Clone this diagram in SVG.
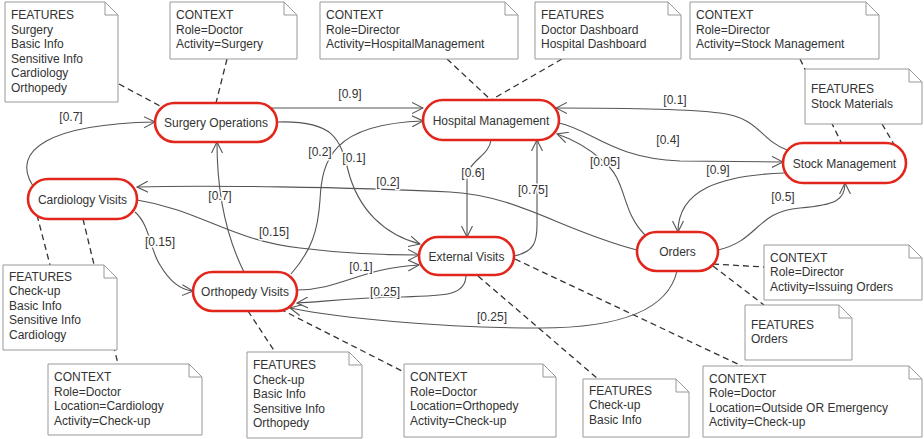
<svg xmlns="http://www.w3.org/2000/svg" width="924" height="439" viewBox="0 0 924 439">
<style>
.bg{fill:#fff}
.node rect{fill:#fff;stroke:#e3261c;stroke-width:2.6}
.node text{font-family:"Liberation Sans",Arial,sans-serif;font-size:12px;fill:#333;text-anchor:middle}
.note path.b{fill:#fff;stroke:#999;stroke-width:1}
.note path.f{fill:none;stroke:#999;stroke-width:1}
.note text{font-family:"Liberation Sans",Arial,sans-serif;font-size:12px;fill:#333}
.e{fill:none;stroke:#555;stroke-width:1.1;marker-end:url(#arr)}
.d{fill:none;stroke:#333;stroke-width:1.3;stroke-dasharray:6 4}
.lbl{font-family:"Liberation Sans",Arial,sans-serif;font-size:12px;fill:#333;text-anchor:middle;stroke:#fff;stroke-width:3;paint-order:stroke;stroke-linejoin:round}
</style>
<defs>
<marker id="arr" markerWidth="12" markerHeight="12" refX="11" refY="6" orient="auto" markerUnits="userSpaceOnUse">
<path d="M0,0.5 L11,6 L0,11.5" fill="none" stroke="#555" stroke-width="1.1"/>
</marker>
</defs>
<rect class="bg" x="0" y="0" width="924" height="439"/>

<g id="connectors">
<!-- dashed note links -->
<path class="d" d="M119,84 L160,106"/>
<path class="d" d="M227,59 L216,103"/>
<path class="d" d="M447,59 L491,100"/>
<path class="d" d="M562,59 L491,100"/>
<path class="d" d="M800,59 L843,146"/>
<path class="d" d="M882,124 L895,146"/>
<path class="d" d="M37,215 L50,265"/>
<path class="d" d="M83,219 L118,364"/>
<path class="d" d="M248,311 L275,352"/>
<path class="d" d="M280,309 L404,372"/>
<path class="d" d="M478,276 L598,379"/>
<path class="d" d="M515,259 L742,366"/>
<path class="d" d="M713,264 L764,267"/>
<path class="d" d="M713,266 L764,305"/>

<!-- probability edges -->
<path class="e" d="M33,186 C10,150 50,124 155,122"/>
<path class="e" d="M268,108 L423,108"/>
<path class="e" d="M277,122 C335,120 340,140 348,170 C358,210 385,235 420,244"/>
<path class="e" d="M291,274 C312,250 318,230 320,200 C322,160 332,124 423,121"/>
<path class="e" d="M244,272 C228,240 217,200 217,142"/>
<path class="e" d="M491,140 C489,157 467,160 467,180 L467,237"/>
<path class="e" d="M514,256 C534,252 537,242 537,225 L537,140"/>
<path class="e" d="M787,150 C760,140 760,118 720,113 C680,108 600,108 556,108"/>
<path class="e" d="M559,123 C592,130 612,158 680,161 L783,162"/>
<path class="e" d="M645,235 C620,210 628,180 602,160 C586,146 572,139 557,134"/>
<path class="e" d="M785,173 C720,175 678,190 678,232"/>
<path class="e" d="M718,250 C760,240 755,212 800,208 C836,205 845,200 845,183"/>
<path class="e" d="M637,250 C560,230 520,196 450,192 C350,187 200,185 137,187"/>
<path class="e" d="M137,200 C200,210 230,240 300,248 C340,253 380,255 419,255"/>
<path class="e" d="M135,212 C150,225 150,250 160,265 C170,282 180,290 193,291"/>
<path class="e" d="M297,290 C340,290 360,268 419,265"/>
<path class="e" d="M466,275 C466,296 445,296 400,297 C350,298 320,302 297,303"/>
<path class="e" d="M677,271 C668,310 620,328 540,328 C440,328 340,318 290,308"/>

<text class="lbl" x="71" y="121">[0.7]</text>
<text class="lbl" x="350" y="98">[0.9]</text>
<text class="lbl" x="354" y="162">[0.1]</text>
<text class="lbl" x="320" y="156">[0.2]</text>
<text class="lbl" x="220" y="200">[0.7]</text>
<text class="lbl" x="473" y="177">[0.6]</text>
<text class="lbl" x="533" y="194">[0.75]</text>
<text class="lbl" x="675" y="104">[0.1]</text>
<text class="lbl" x="668" y="144">[0.4]</text>
<text class="lbl" x="605" y="166">[0.05]</text>
<text class="lbl" x="718" y="174">[0.9]</text>
<text class="lbl" x="783" y="201">[0.5]</text>
<text class="lbl" x="388" y="186">[0.2]</text>
<text class="lbl" x="274" y="236">[0.15]</text>
<text class="lbl" x="160" y="246">[0.15]</text>
<text class="lbl" x="361" y="271">[0.1]</text>
<text class="lbl" x="385" y="296">[0.25]</text>
<text class="lbl" x="492" y="321">[0.25]</text>
</g>

<!-- states -->
<g id="surgery" class="node"><rect x="155" y="103" width="122" height="39" rx="19.5"/><text x="216" y="126.5">Surgery Operations</text></g>
<g id="hospital" class="node"><rect x="423" y="100" width="136" height="40" rx="20"/><text x="491" y="124.5">Hospital Management</text></g>
<g id="stock" class="node"><rect x="783" y="143" width="123" height="40" rx="20"/><text x="844.5" y="167.5">Stock Management</text></g>
<g id="cardiology" class="node"><rect x="28" y="179" width="109" height="40" rx="20"/><text x="82.5" y="203.5">Cardiology Visits</text></g>
<g id="orthopedy" class="node"><rect x="193" y="272" width="104" height="39" rx="19.5"/><text x="245" y="295.5">Orthopedy Visits</text></g>
<g id="external" class="node"><rect x="419" y="237" width="95" height="38" rx="19"/><text x="466.5" y="260.5">External Visits</text></g>
<g id="orders" class="node"><rect x="637" y="232" width="81" height="39" rx="19.5"/><text x="677.5" y="255.5">Orders</text></g>

<!-- notes -->
<g id="note-surgery-features" class="note"><path class="b" d="M5,2 H105 L118,15 V102 H5 Z"/><path class="f" d="M105,2 V15 H118"/>
<text x="11" y="19">FEATURES</text><text x="11" y="33.5">Surgery</text><text x="11" y="48">Basic Info</text><text x="11" y="62.5">Sensitive Info</text><text x="11" y="77">Cardiology</text><text x="11" y="91.5">Orthopedy</text></g>

<g id="note-surgery-context" class="note"><path class="b" d="M170,2 H284 L297,15 V59 H170 Z"/><path class="f" d="M284,2 V15 H297"/>
<text x="176" y="19">CONTEXT</text><text x="176" y="33.5">Role=Doctor</text><text x="176" y="48">Activity=Surgery</text></g>

<g id="note-hospital-context" class="note"><path class="b" d="M320,2 H505 L518,15 V59 H320 Z"/><path class="f" d="M505,2 V15 H518"/>
<text x="326" y="19">CONTEXT</text><text x="326" y="33.5">Role=Director</text><text x="326" y="48">Activity=HospitalManagement</text></g>

<g id="note-hospital-features" class="note"><path class="b" d="M535,2 H668 L681,15 V59 H535 Z"/><path class="f" d="M668,2 V15 H681"/>
<text x="541" y="19">FEATURES</text><text x="541" y="33.5">Doctor Dashboard</text><text x="541" y="48">Hospital Dashboard</text></g>

<g id="note-stock-context" class="note"><path class="b" d="M690,2 H866 L879,15 V59 H690 Z"/><path class="f" d="M866,2 V15 H879"/>
<text x="696" y="19">CONTEXT</text><text x="696" y="33.5">Role=Director</text><text x="696" y="48">Activity=Stock Management</text></g>

<g id="note-stock-features" class="note"><path class="b" d="M805,69 H909 L922,82 V124 H805 Z"/><path class="f" d="M909,69 V82 H922"/>
<text x="811" y="93">FEATURES</text><text x="811" y="107.5">Stock Materials</text></g>

<g id="note-cardiology-features" class="note"><path class="b" d="M3,265 H104 L117,278 V350 H3 Z"/><path class="f" d="M104,265 V278 H117"/>
<text x="9" y="280.5">FEATURES</text><text x="9" y="295">Check-up</text><text x="9" y="309.5">Basic Info</text><text x="9" y="324">Sensitive Info</text><text x="9" y="338.5">Cardiology</text></g>

<g id="note-cardiology-context" class="note"><path class="b" d="M48,364 H189 L202,377 V435 H48 Z"/><path class="f" d="M189,364 V377 H202"/>
<text x="54" y="381">CONTEXT</text><text x="54" y="395.5">Role=Doctor</text><text x="54" y="410">Location=Cardiology</text><text x="54" y="424.5">Activity=Check-up</text></g>

<g id="note-orthopedy-features" class="note"><path class="b" d="M247,352 H349 L362,365 V438 H247 Z"/><path class="f" d="M349,352 V365 H362"/>
<text x="253" y="369">FEATURES</text><text x="253" y="383.5">Check-up</text><text x="253" y="398">Basic Info</text><text x="253" y="412.5">Sensitive Info</text><text x="253" y="427">Orthopedy</text></g>

<g id="note-orthopedy-context" class="note"><path class="b" d="M404,364 H543 L556,377 V437 H404 Z"/><path class="f" d="M543,364 V377 H556"/>
<text x="410" y="381">CONTEXT</text><text x="410" y="395.5">Role=Doctor</text><text x="410" y="410">Location=Orthopedy</text><text x="410" y="424.5">Activity=Check-up</text></g>

<g id="note-external-features" class="note"><path class="b" d="M583,379 H676 L689,392 V437 H583 Z"/><path class="f" d="M676,379 V392 H689"/>
<text x="589" y="394.5">FEATURES</text><text x="589" y="409">Check-up</text><text x="589" y="423.5">Basic Info</text></g>

<g id="note-orders-features" class="note"><path class="b" d="M745,305 H839 L852,318 V360 H745 Z"/><path class="f" d="M839,305 V318 H852"/>
<text x="751" y="328.5">FEATURES</text><text x="751" y="343">Orders</text></g>

<g id="note-orders-context" class="note"><path class="b" d="M764,245 H909 L922,258 V300 H764 Z"/><path class="f" d="M909,245 V258 H922"/>
<text x="770" y="261.5">CONTEXT</text><text x="770" y="276">Role=Director</text><text x="770" y="290.5">Activity=Issuing Orders</text></g>

<g id="note-external-context" class="note"><path class="b" d="M703,366 H909 L922,379 V437 H703 Z"/><path class="f" d="M909,366 V379 H922"/>
<text x="709" y="382.5">CONTEXT</text><text x="709" y="397">Role=Doctor</text><text x="709" y="411.5">Location=Outside OR Emergency</text><text x="709" y="426">Activity=Check-up</text></g>
</svg>
